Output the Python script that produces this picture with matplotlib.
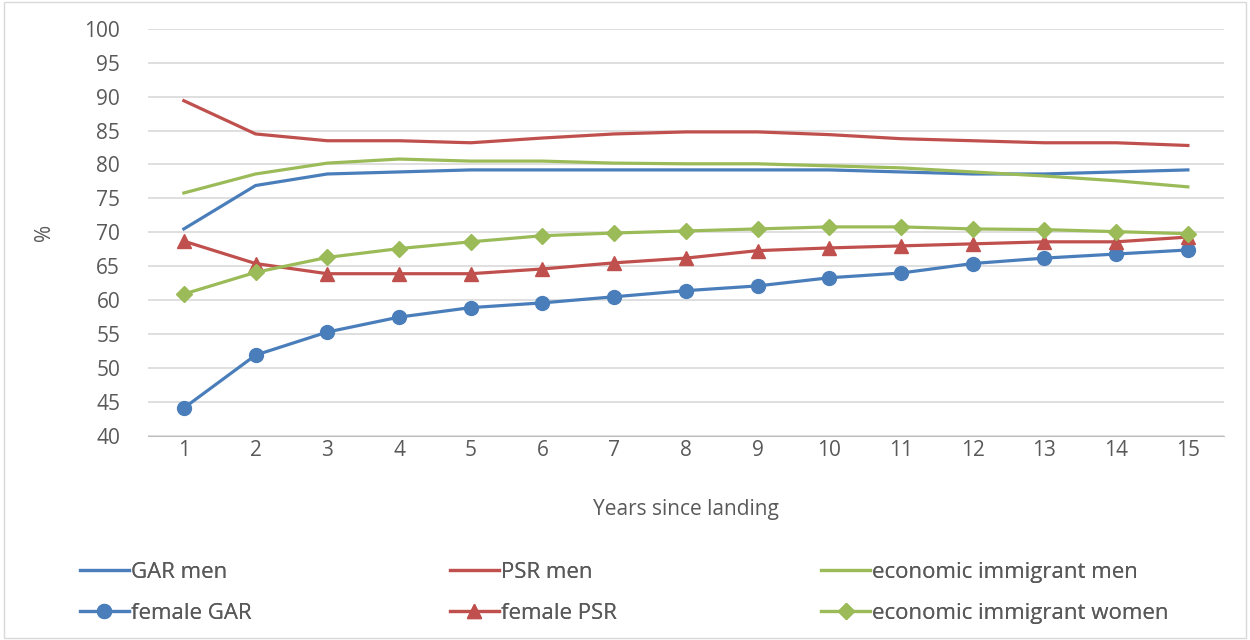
import numpy as np
import matplotlib.pyplot as plt
from matplotlib.patches import Rectangle

# Años desde la llegada y tasas de empleo (%)
years = np.arange(1, 16)

gar_men = [70.5, 76.9, 78.6, 78.9, 79.2, 79.2, 79.2, 79.2, 79.2, 79.2, 78.9, 78.6, 78.6, 78.9, 79.2]
psr_men = [89.4, 84.5, 83.5, 83.5, 83.2, 83.9, 84.5, 84.8, 84.8, 84.4, 83.8, 83.5, 83.2, 83.2, 82.8]
econ_men = [75.8, 78.6, 80.2, 80.8, 80.5, 80.5, 80.2, 80.1, 80.1, 79.8, 79.5, 78.9, 78.3, 77.6, 76.7]
female_gar = [44.1, 51.9, 55.3, 57.5, 58.9, 59.6, 60.5, 61.4, 62.1, 63.3, 64.0, 65.4, 66.2, 66.8, 67.4]
female_psr = [68.7, 65.4, 63.9, 63.9, 63.9, 64.6, 65.5, 66.2, 67.3, 67.7, 68.0, 68.3, 68.6, 68.6, 69.3]
econ_women = [60.9, 64.1, 66.3, 67.6, 68.6, 69.5, 69.9, 70.2, 70.5, 70.8, 70.8, 70.5, 70.4, 70.1, 69.8]

azul = '#4a7ebb'
rojo = '#c0504d'
verde = '#9bbb59'
gris = '#595959'

plt.rcParams['font.family'] = ['Open Sans', 'DejaVu Sans']

fig = plt.figure(figsize=(12.5, 6.4), dpi=100)
ax = fig.add_axes([0.1184, 0.319, 0.8606, 0.636])

lw = 2.3
l1, = ax.plot(years, gar_men, color=azul, lw=lw, label='GAR men')
l2, = ax.plot(years, female_gar, color=azul, lw=lw, marker='o', ms=10, label='female GAR')
l3, = ax.plot(years, psr_men, color=rojo, lw=lw, label='PSR men')
l4, = ax.plot(years, female_psr, color=rojo, lw=lw, marker='^', ms=10, label='female PSR')
l5, = ax.plot(years, econ_men, color=verde, lw=lw, label='economic immigrant men')
l6, = ax.plot(years, econ_women, color=verde, lw=lw, marker='D', ms=8, label='economic immigrant women')

ax.set_xlim(0.5, 15.5)
ax.set_ylim(40, 100)
ax.set_yticks(np.arange(40, 101, 5))
ax.set_xticks(years)
ax.yaxis.grid(True, color='#d9d9d9', lw=1.2)
ax.set_axisbelow(True)
for s in ['top', 'right', 'left']:
    ax.spines[s].set_visible(False)
ax.spines['bottom'].set_color('#bfbfbf')
ax.tick_params(axis='both', length=0, labelsize=15, colors=gris)
ax.tick_params(axis='x', pad=3)
ax.tick_params(axis='y', pad=20)

ax.set_xlabel('Years since landing', fontsize=15, color=gris, labelpad=27)
ax.set_ylabel('%', fontsize=15, color=gris)
ax.yaxis.set_label_coords(-0.086, 0.5)

# leyenda en tres columnas colocadas a mano
columnas = [((l1, l2), 0.064), ((l3, l4), 0.36), ((l5, l6), 0.657)]
for handles, x0 in columnas:
    leg = fig.legend(handles=list(handles), loc='upper left', bbox_to_anchor=(x0, 0.122),
                     frameon=False, fontsize=16, labelcolor=gris, handlelength=2.2,
                     handletextpad=0.1, borderpad=0, borderaxespad=0, labelspacing=0.9)
    fig.add_artist(leg)

# marco exterior
fig.patches.append(Rectangle((0.003, 0.003), 0.994, 0.994, transform=fig.transFigure,
                             fill=False, edgecolor='#d9d9d9', lw=1))

fig.savefig('out.png', dpi=100)
